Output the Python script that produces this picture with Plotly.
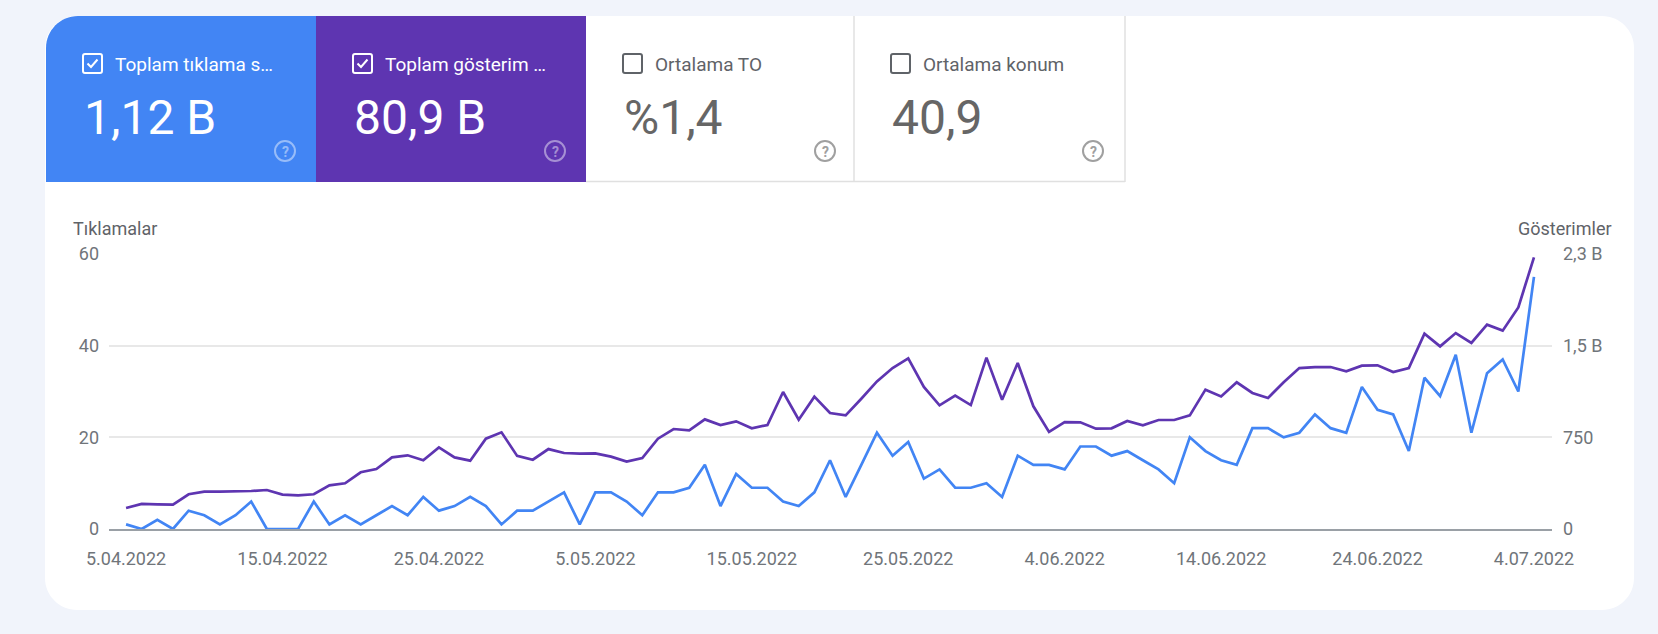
import pandas as pd
import plotly.graph_objects as go

# ---------------- data ----------------
start_date = "2022-04-05"
n_days = 91
dates = pd.date_range(start_date, periods=n_days, freq="D")

clicks = [1, 0, 2, 0, 4, 3, 1, 3, 6, 0, 0, 0, 6, 1, 3, 1, 3, 5, 3, 7, 4, 5, 7, 5, 1, 4,
          4, 6, 8, 1, 8, 8, 6, 3, 8, 8, 9, 14, 5, 12, 9, 9, 6, 5, 8, 15, 7, 14, 21, 16, 19, 11, 13, 9, 9,
          10, 7, 16, 14, 14, 13, 18, 18, 16, 17, 15, 13, 10, 20, 17, 15, 14, 22, 22, 20, 21, 25, 22, 21,
          31, 26, 25, 17, 33, 29, 38, 21, 34, 37, 30, 55]

impressions = [172, 205, 202, 199, 284, 305, 305, 305, 311, 319, 281, 275, 284, 357, 374, 464, 491, 586,
               603, 562, 668, 586, 559, 739, 791, 598,
               567, 654, 622, 616, 619, 592, 551, 581, 739, 818, 807, 897, 851, 881, 824, 851, 1121, 894,
               1083, 949, 930, 1066, 1208, 1317, 1396, 1162, 1012, 1091, 1014,
               1402, 1058, 1358, 1004, 794, 875, 873, 821, 824, 884, 848, 892, 892, 930, 1140, 1085, 1200,
               1113, 1072, 1200, 1317, 1325, 1325, 1290, 1336, 1339, 1284, 1317, 1598, 1494, 1603, 1522,
               1672, 1623, 1813, 2222]

tile_labels = ["Toplam tıklama s…", "Toplam gösterim …", "Ortalama TO", "Ortalama konum"]
tile_values = ["1,12 B", "80,9 B", "%1,4", "40,9"]
tile_checked = [True, True, False, False]

left_title = "Tıklamalar"
right_title = "Gösterimler"
left_ticks = [0, 20, 40, 60]
right_tickvals = [0, 750, 1500, 2250]
right_ticktext = ["0", "750", "1,5 B", "2,3 B"]

# ---------------- styling ----------------
BLUE = "#4285f4"
PURPLE = "#5e35b1"
PAGE_BG = "#f1f4fb"
GRAY_TXT = "#5f6368"
TICK_TXT = "#70757a"
FONT = "Roboto"

WIDTH, HEIGHT = 1658, 634
L, R, T, B = 109, 1552, 254, 529
PW, PH = R - L, B - T


def px(x):
    return (x - L) / PW


def py(y):
    return (B - y) / PH


def P(x, y):
    return f"{px(x):.6f},{py(y):.6f}"


def rrect(x0, y0, x1, y1, r_tl=0, r_tr=0, r_br=0, r_bl=0):
    k = 0.5523
    s = f"M {P(x0 + r_tl, y0)} L {P(x1 - r_tr, y0)} "
    if r_tr:
        s += f"C {P(x1 - r_tr + k * r_tr, y0)} {P(x1, y0 + r_tr - k * r_tr)} {P(x1, y0 + r_tr)} "
    s += f"L {P(x1, y1 - r_br)} "
    if r_br:
        s += f"C {P(x1, y1 - r_br + k * r_br)} {P(x1 - r_br + k * r_br, y1)} {P(x1 - r_br, y1)} "
    s += f"L {P(x0 + r_bl, y1)} "
    if r_bl:
        s += f"C {P(x0 + r_bl - k * r_bl, y1)} {P(x0, y1 - r_bl + k * r_bl)} {P(x0, y1 - r_bl)} "
    s += f"L {P(x0, y0 + r_tl)} "
    if r_tl:
        s += f"C {P(x0, y0 + r_tl - k * r_tl)} {P(x0 + r_tl - k * r_tl, y0)} {P(x0 + r_tl, y0)} "
    return s + "Z"


shapes = []
annotations = []

# card
shapes.append(dict(type="path", xref="paper", yref="paper", layer="below",
                   path=rrect(45, 16, 1634, 610, 32, 32, 32, 32),
                   fillcolor="white", line=dict(width=0)))

# tiles
tile_x = [46, 316, 586, 854]
tile_w = [270, 270, 268, 271]
tile_fill = [BLUE, PURPLE, "white", "white"]
for i in range(4):
    x0 = tile_x[i]
    x1 = x0 + tile_w[i]
    shapes.append(dict(type="path", xref="paper", yref="paper", layer="below",
                       path=rrect(x0, 16, x1, 182, 32 if i == 0 else 0),
                       fillcolor=tile_fill[i], line=dict(width=0)))

# borders of white tiles
border_col = "#e0e0e0"
for xb in (854, 1125):
    shapes.append(dict(type="line", xref="paper", yref="paper", layer="below",
                       x0=px(xb), x1=px(xb), y0=py(16), y1=py(182),
                       line=dict(color=border_col, width=1.5)))
shapes.append(dict(type="line", xref="paper", yref="paper", layer="below",
                   x0=px(586), x1=px(1125), y0=py(181.5), y1=py(181.5),
                   line=dict(color=border_col, width=1.5)))

for i in range(4):
    x0 = tile_x[i]
    on_color = tile_checked[i]
    txt_col = "white" if on_color else GRAY_TXT
    num_col = "white" if on_color else "#666666"
    q_col = "rgba(255,255,255,0.45)" if on_color else "#a0a0a0"
    box_col = "white" if on_color else GRAY_TXT
    cx = x0 + 37
    # checkbox
    shapes.append(dict(type="path", xref="paper", yref="paper", layer="above",
                       path=rrect(cx, 54, cx + 19, 73, 2, 2, 2, 2),
                       fillcolor="rgba(0,0,0,0)", line=dict(color=box_col, width=2)))
    if tile_checked[i]:
        shapes.append(dict(type="path", xref="paper", yref="paper", layer="above",
                           path=f"M {P(cx + 4.5, 63.5)} L {P(cx + 8, 67)} L {P(cx + 14.5, 59.5)}",
                           line=dict(color="white", width=2)))
    annotations.append(dict(xref="paper", yref="paper", x=px(x0 + 67), y=py(64),
                            xanchor="left", yanchor="middle", showarrow=False,
                            text=tile_labels[i], font=dict(family=FONT, size=19, color=txt_col)))
    annotations.append(dict(xref="paper", yref="paper", x=px(x0 + 36), y=py(118),
                            xanchor="left", yanchor="middle", showarrow=False,
                            text=tile_values[i], font=dict(family=FONT, size=48, color=num_col)))
    # question icon
    qx, qy = x0 + 239, 151
    shapes.append(dict(type="circle", xref="paper", yref="paper", layer="above",
                       x0=px(qx - 10), x1=px(qx + 10), y0=py(qy + 10), y1=py(qy - 10),
                       line=dict(color=q_col, width=2)))
    annotations.append(dict(xref="paper", yref="paper", x=px(qx), y=py(qy + 0.5),
                            xanchor="center", yanchor="middle", showarrow=False,
                            text="<b>?</b>", font=dict(family=FONT, size=14, color=q_col)))

# axis titles
annotations.append(dict(xref="paper", yref="paper", x=px(71), y=py(228), xanchor="left",
                        yanchor="middle", showarrow=False, text=left_title,
                        font=dict(family=FONT, size=18, color=GRAY_TXT)))
annotations.append(dict(xref="paper", yref="paper", x=px(1614), y=py(228), xanchor="right",
                        yanchor="middle", showarrow=False, text=right_title,
                        font=dict(family=FONT, size=18, color=GRAY_TXT)))

fig = go.Figure()
fig.add_trace(go.Scatter(x=dates, y=clicks, mode="lines", name="Tıklamalar",
                         line=dict(color=BLUE, width=2.7), yaxis="y", hoverinfo="skip"))
fig.add_trace(go.Scatter(x=dates, y=impressions, mode="lines", name="Gösterimler",
                         line=dict(color=PURPLE, width=2.7), yaxis="y2", hoverinfo="skip"))

fig.update_layout(
    width=WIDTH, height=HEIGHT,
    margin=dict(l=L, r=WIDTH - R, t=T, b=HEIGHT - B, pad=0),
    paper_bgcolor=PAGE_BG, plot_bgcolor="rgba(0,0,0,0)",
    showlegend=False,
    font=dict(family=FONT, color=TICK_TXT, size=18),
    xaxis=dict(type="date", range=["2022-04-03 21:50", "2022-07-05 03:40"],
               tick0=start_date, dtick=864000000, tickformat="%-d.%m.%Y",
               showgrid=False, zeroline=False, showline=True, linecolor="#9aa0a6",
               linewidth=1.5, ticks="", ticklabelstandoff=13,
               tickfont=dict(family=FONT, size=18, color=TICK_TXT)),
    yaxis=dict(range=[0, 60], tickvals=left_ticks, showgrid=True, gridcolor="#e8e8e8",
               gridwidth=1.5, zeroline=False, showline=False, ticks="", ticklabelstandoff=9,
               tickfont=dict(family=FONT, size=18, color=TICK_TXT)),
    yaxis2=dict(range=[0, 2250], tickvals=right_tickvals, ticktext=right_ticktext,
                overlaying="y", side="right", showgrid=False, zeroline=False, showline=False,
                ticks="", ticklabelstandoff=10,
                tickfont=dict(family=FONT, size=18, color=TICK_TXT)),
    shapes=shapes,
    annotations=annotations,
)

fig.write_html("out.html",
               config={"displayModeBar": False},
               post_script="document.body.style.margin='0';document.body.style.background='%s';" % PAGE_BG)
